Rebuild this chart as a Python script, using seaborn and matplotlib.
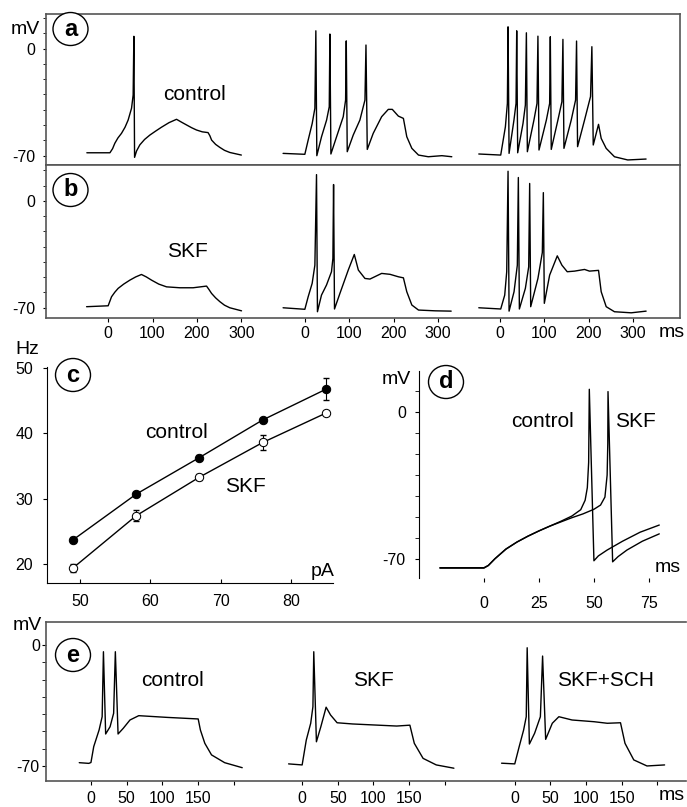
import numpy as np
import seaborn as sns
import matplotlib.pyplot as plt
from matplotlib.patches import Ellipse
from matplotlib.ticker import FixedLocator

W, H = 687, 807

# ---- panel a: control, three current steps (ms, mV) ----
A1_T = [-48, 4, 10, 15, 22, 30, 38, 45, 52.7, 56.3, 57.9, 59.5, 64, 71.4, 82, 94, 107, 120, 137, 154,
        166, 176.6, 188, 199, 212, 225, 229, 233, 242, 251.6, 262, 274, 300]
A1_V = [-68.2, -68.2, -65.5, -62, -58.5, -55.5, -51.5, -46.8, -39, -30.4, 8, -71.2, -67, -63, -59.5, -56.6, -54, -51.5, -48.5, -46.3,
        -48.3, -50, -51.8, -53.3, -54.5, -55, -57, -59.9, -62.7, -64.7, -66.6, -68, -69.7]

A2_T = [-49, 0, 7.5, 16.6, 22.6, 24.8, 27, 37.6, 49, 55, 56.4, 58.7, 71.5, 86.5, 91.8, 93.3, 95.5, 109, 124,
        135.4, 137.7, 140.6, 154, 173, 188, 197, 210.6, 222, 229.6, 241, 256, 278, 308.6, 331]
A2_V = [-68.6, -69.2, -59.9, -49, -39.1, 11.6, -70.1, -57.7, -46.8, -38.1, 9.5, -69, -57.7, -44.6, -33.7, 5, -67.5,
        -56.6, -46.8, -33.7, 2.3, -66, -55.5, -44.6, -39.8, -39.8, -44.2, -45.7, -57.7, -65.3, -69.7, -70.8, -70.1, -70.8]

A3_T = [-47.2, 2.2, 12.7, 17.2, 18.7, 21, 32, 36.7, 38.2, 40.4, 52.4, 57.7, 60, 62.2, 77, 83.9, 86, 88.4,
        105, 112.4, 113.9, 116, 131, 140, 142.3, 144.6, 161, 170.8, 173, 175.3, 191, 204.5, 207.5, 210.6,
        222.5, 228.5, 239.7, 258.4, 288.3, 329.6]
A3_V = [-69, -69.7, -51.2, -35.9, 14.2, -68.6, -46.8, -35.9, 11.6, -68.2, -49, -37, 10.3, -67.5, -46.8, -35.9, 8.1, -66.4,
        -46.8, -35.9, 7.7, -66, -46.8, -34.8, 6, -65.3, -46.8, -33.7, 4.9, -64.2, -46.8, -31.4, 1.2, -63.1,
        -49.6, -58.8, -65.3, -70.8, -72.9, -72.3]

# ---- panel b: SKF ----
B1_T = [-48.6, 0, 7.6, 15, 22.5, 35, 48.9, 62, 75, 86, 97.7, 114, 131.5, 161.5, 191.4, 221.6, 227, 232.9, 242, 251.6, 262, 274, 300.4]
B1_V = [-69.3, -68.7, -62.8, -59.8, -57.3, -54.5, -51.9, -49.8, -48.2, -49.8, -51.9, -54.5, -56.3, -56.9, -56.9, -55.8, -58, -60.6,
        -63.5, -66, -68.3, -70, -72]

B2_T = [-49, 0, 7.5, 16.5, 22.6, 26.3, 28.4, 37.5, 48.8, 60, 63.2, 64.7, 66.8, 79, 97.8, 111.4, 120.5, 135.4,
        146.7, 173, 191.9, 210.6, 222, 229.6, 241, 256, 293.5, 329.6]
B2_V = [-70, -71, -62.8, -54, -42.1, 17.2, -72.6, -61.7, -55.1, -46.4, -37.7, 10.7, -70.8, -60.6, -45.3, -35.1, -45.3, -50.8,
        -51.2, -47.5, -48.1, -49.7, -50.4, -59.5, -68.2, -71.5, -72, -72.2]

B3_T = [-47.2, 2.2, 11.2, 15.7, 18.7, 21, 32.2, 39.6, 41.9, 44.2, 57.7, 65.2, 67.4, 69.7, 86, 95.9, 98.2, 100.4,
        112.4, 129.6, 140, 152, 168.5, 191, 202, 222.5, 228.5, 239.8, 258.4, 296, 329.7]
B3_V = [-70, -70.8, -61.7, -46.4, 19.4, -72.2, -59.5, -42.1, 15.3, -70.8, -57.3, -43.2, 11.4, -69.3, -50.8, -33.8, 5.4, -67.1,
        -48.6, -36, -42.1, -46.4, -46, -44.9, -46, -45.5, -59.5, -69.3, -72.6, -73.3, -72.2]

# ---- panel c: firing frequency vs injected current ----
PA = [49, 58, 67, 76, 85]
CTRL_HZ = [23.7, 30.7, 36.3, 42.05, 46.75]
CTRL_ERR = [0.4, 0.3, 0.4, 0.3, 1.7]
SKF_HZ = [19.4, 27.4, 33.3, 38.6, 43.1]
SKF_ERR = [0.6, 0.8, 0.5, 1.1, 0.3]

# ---- panel d: first spike, control vs SKF ----
DC_T = [-20, 0, 2, 5, 10, 15, 20, 25, 30, 35, 40, 44, 46, 47, 47.6, 47.9, 50, 52, 56, 63, 71, 79.7]
DC_V = [-74.1, -74.1, -73, -69.8, -65.2, -61.9, -59.1, -56.6, -54.3, -52, -49.5, -46.5, -42, -36, -24, 10.8, -70.8, -68.5, -65.7,
        -61.5, -57.2, -53.8]
DS_T = [-20, 0, 2, 5, 10, 15, 20, 25, 30, 35, 40, 45, 50, 53, 55, 56, 56.3, 56.4, 58.5, 61, 65, 72, 79.7]
DS_V = [-74.3, -74.3, -73.1, -69.9, -65.3, -61.9, -59.1, -56.6, -54.3, -52.3, -50.3, -48.5, -46.3, -44.3, -40.5, -30, -15, 9.7,
        -71.3, -68.8, -65.7, -61.5, -58]

# ---- panel e: control, SKF, SKF+SCH ----
E1_T = [-16.4, -3, 0, 3.9, 11.4, 15.7, 17.5, 20.6, 26.8, 31.8, 34.2, 38, 45.3, 54.7, 67, 107, 150.3, 153.4,
        159.6, 169, 187.4, 212]
E1_V = [-68.1, -68.5, -68, -58.8, -49.2, -41.5, -3.9, -51.5, -47.3, -39.5, -3.9, -51.5, -48.2, -43.4, -40.9, -41.9, -42.8, -49.2,
        -56.9, -63.6, -68.1, -71]
E2_T = [-19, 0, 5.8, 12, 15.1, 16.3, 20, 26.2, 33.6, 39.8, 49, 70.7, 132.5, 151, 157.2, 169.5, 188, 212.7]
E2_V = [-68.8, -69.4, -55, -45.3, -35.7, -3.9, -56, -47.3, -36, -40.5, -45, -45.7, -46.9, -46.4, -56.9, -65.6, -69.4, -71.3]
E3_T = [-18.5, 0, 6.2, 12.4, 16.1, 17.4, 20.5, 27.8, 35.9, 39, 43.3, 52.6, 61.8, 80.3, 111.2, 129.7, 148.2,
        154.5, 166.8, 185.3, 210]
E3_V = [-68.4, -68.8, -58.8, -49.2, -41.5, -1.6, -57.3, -51.1, -41.5, -6.4, -54.6, -45.3, -41.5, -43.4, -44.4, -45.3, -45,
        -56.9, -66.5, -70, -69.4]

AB_OFFSETS = [0, 443, 882]
E_OFFSETS = [0, 296, 594]

sns.set_style('ticks')
plt.rcParams['font.family'] = ['Liberation Sans', 'DejaVu Sans']
plt.rcParams['font.size'] = 11.5
plt.rcParams['text.color'] = 'black'
plt.rcParams['xtick.color'] = 'black'
plt.rcParams['ytick.color'] = 'black'
plt.rcParams['axes.edgecolor'] = 'black'

fig = plt.figure(figsize=(W / 100, H / 100), dpi=100)


def box(x0, y0, x1, y1):
    return fig.add_axes([x0 / W, 1 - y1 / H, (x1 - x0) / W, (y1 - y0) / H])


def label(x, y, s, size=15, **kw):
    fig.text(x / W, 1 - y / H, s, ha='center', va='center', fontsize=size, color='black', **kw)


def tag(x, y, s):
    fig.add_artist(Ellipse((x / W, 1 - y / H), 35 / W, 33 / H, transform=fig.transFigure,
                           fc='white', ec='black', lw=1, zorder=5))
    fig.text(x / W, 1 - y / H, s, ha='center', va='center', fontsize=17,
             fontweight='bold', color='black', zorder=6)


def trace(ax, t, v, off=0):
    sns.lineplot(x=np.array(t) + off, y=v, ax=ax, sort=False, estimator=None,
                 color='black', lw=1)


def mv_axis(ax, lo, hi, ticks):
    ax.set_ylim(lo, hi)
    ax.set_yticks([0, -70])
    ax.set_yticklabels(['0', '-70'])
    ax.yaxis.set_minor_locator(FixedLocator(ticks))


frame = '#555555'

# panel a
ax_a = box(46, 14, 680, 165)
for t, v, o in zip([A1_T, A2_T, A3_T], [A1_V, A2_V, A3_V], AB_OFFSETS):
    trace(ax_a, t, v, o)
ax_a.set_xlim(-140, 1288)
mv_axis(ax_a, -76.2, 22.6, range(-70, 21, 10))
ax_a.set_xticks([])

# panel b
ax_b = box(46, 165, 680, 318)
for t, v, o in zip([B1_T, B2_T, B3_T], [B1_V, B2_V, B3_V], AB_OFFSETS):
    trace(ax_b, t, v, o)
ax_b.set_xlim(-140, 1288)
mv_axis(ax_b, -76.7, 23.5, range(-70, 21, 10))
ax_b.set_xticks([o + m for o in AB_OFFSETS for m in (0, 100, 200, 300)])
ax_b.set_xticklabels(['0', '100', '200', '300'] * 3)
ax_b.tick_params(axis='x', direction='out', length=3, pad=2.5)

for ax in (ax_a, ax_b):
    ax.tick_params(axis='y', which='both', direction='out', length=2.5, pad=5.5)
    for sp in ax.spines.values():
        sp.set_color(frame)
        sp.set_linewidth(1.2)
    ax.set_xlabel('')
    ax.set_ylabel('')

# panel c
ax_c = box(47, 367, 333, 583)
ax_c.errorbar(PA, CTRL_HZ, yerr=CTRL_ERR, fmt='none', ecolor='black', elinewidth=0.8, capsize=2.5, zorder=2)
ax_c.errorbar(PA, SKF_HZ, yerr=SKF_ERR, fmt='none', ecolor='black', elinewidth=0.8, capsize=2.5, zorder=2)
sns.lineplot(x=PA, y=CTRL_HZ, ax=ax_c, color='black', lw=1, marker='o', markersize=6,
             markerfacecolor='black', markeredgecolor='black', zorder=3)
sns.lineplot(x=PA, y=SKF_HZ, ax=ax_c, color='black', lw=1, marker='o', markersize=6,
             markerfacecolor='white', markeredgecolor='black', zorder=3)
ax_c.set_xlim(45.3, 86)
ax_c.set_ylim(17.1, 50.15)
ax_c.set_xticks([50, 60, 70, 80])
ax_c.set_yticks([20, 30, 40, 50])
ax_c.tick_params(axis='x', direction='in', length=3, pad=8)
ax_c.tick_params(axis='y', direction='out', length=3, pad=7)
sns.despine(ax=ax_c)
ax_c.set_xlabel('')
ax_c.set_ylabel('')

# panel d
ax_d = box(419, 371, 665, 578)
trace(ax_d, DC_T, DC_V)
trace(ax_d, DS_T, DS_V)
ax_d.set_xlim(-29.5, 82.3)
mv_axis(ax_d, -79, 19.5, range(-70, 11, 10))
ax_d.set_xticks([0, 25, 50, 75])
ax_d.tick_params(axis='x', direction='out', length=3, pad=10)
ax_d.tick_params(axis='y', which='both', direction='out', length=3, pad=6.5)
sns.despine(ax=ax_d, bottom=True)
ax_d.set_xlabel('')
ax_d.set_ylabel('')

# panel e
ax_e = box(46, 622, 686, 781)
for t, v, o in zip([E1_T, E2_T, E3_T], [E1_V, E2_V, E3_V], E_OFFSETS):
    trace(ax_e, t, v, o)
ax_e.set_xlim(-63, 834)
mv_axis(ax_e, -78.7, 13.3, range(-70, 1, 10))
ax_e.set_xticks([o + m for o in E_OFFSETS for m in (0, 50, 100, 150, 200)])
ax_e.set_xticklabels(['0', '50', '100', '150', ''] * 3)
ax_e.tick_params(axis='x', direction='out', length=3, pad=4)
ax_e.tick_params(axis='y', which='both', direction='out', length=3, pad=1.5)
for sp in ax_e.spines.values():
    sp.set_color(frame)
    sp.set_linewidth(1.2)
ax_e.spines['right'].set_visible(False)
ax_e.set_xlabel('')
ax_e.set_ylabel('')

# labels
label(25, 29, 'mV', 14)
tag(70.5, 29, 'a')
label(195, 95, 'control')
tag(70.5, 190, 'b')
label(187, 251, 'SKF')
label(672, 332, 'ms', 14)
label(27.5, 350, 'Hz', 14)
tag(73, 375, 'c')
label(177, 433, 'control')
label(245, 487, 'SKF')
label(323, 572, 'pA', 14)
label(396, 379, 'mV', 14)
tag(446, 382, 'd')
label(543, 421, 'control')
label(635, 421, 'SKF')
label(668, 568, 'ms', 14)
label(27, 626, 'mV', 14)
tag(73, 655, 'e')
label(173, 681, 'control')
label(373, 681, 'SKF')
label(606, 681, 'SKF+SCH')
label(672, 796, 'ms', 14)

fig.savefig('out.png', dpi=100)
